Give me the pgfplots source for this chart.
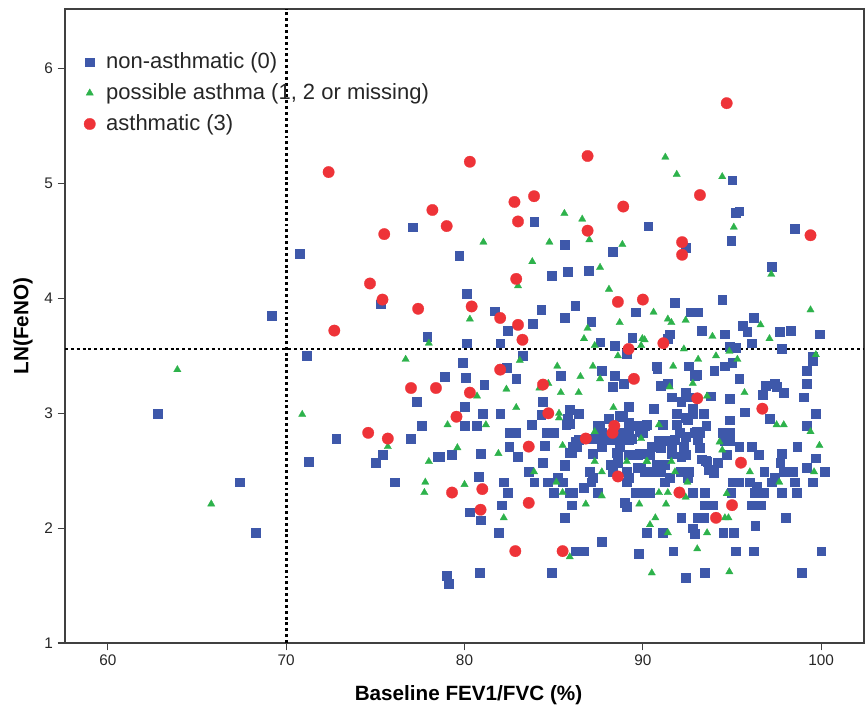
\documentclass[border=0pt]{standalone}
\usepackage{fontspec}
\setmainfont{Liberation Sans}
\usepackage{pgfplots}
\pgfplotsset{compat=1.18}
\definecolor{bluec}{RGB}{62,88,170}
\definecolor{greenc}{RGB}{45,178,75}
\definecolor{redc}{RGB}{238,51,56}
\begin{document}
\begin{tikzpicture}
\useasboundingbox (0,0) rectangle (649.5pt,540pt);
\begin{axis}[
  at={(48.75pt,57.75pt)}, anchor=south west,
  scale only axis, width=599.25pt, height=475.5pt,
  xmin=57.6, xmax=102.4, ymin=1, ymax=6.52,
  xtick={60,70,80,90,100}, ytick={1,2,3,4,5,6},
  minor tick num=0,
  tick align=outside, major tick length=5.5pt,
  xtick pos=bottom, ytick pos=left,
  axis line style={black!75, line width=0.9pt},
  tick style={black!75, line width=0.9pt},
  ticklabel style={font=\fontsize{11.5pt}{13pt}\selectfont, text=black!85},
  /pgf/number format/assume math mode=true,
  xlabel={\textbf{Baseline FEV1/FVC (\%)}},
  ylabel={\textbf{LN(FeNO)}},
  label style={font=\fontsize{15.5pt}{18pt}\selectfont},
  x label style={at={(axis description cs:0.505,-0.082)}, anchor=center},
  y label style={at={(axis description cs:-0.0526,0.5)}, anchor=center},
  legend cell align=left,
  legend image code/.code={\draw[#1] plot coordinates {(0cm,0cm)};},
  legend style={at={(axis description cs:0.0238,0.933)}, anchor=north west,
    draw=none, fill=none, inner sep=0pt, outer sep=0pt,
    font=\fontsize{16.5pt}{19pt}\selectfont, text=black!85,
    row sep=7.2pt, column sep=8pt,
    nodes={inner sep=0pt, text height=12.5pt, text depth=3.5pt}},
]
\addplot[only marks, mark=square*, mark size=3.3pt, mark options={draw=bluec, fill=bluec, line width=0.2pt}] table {
62.8 3.00
67.4 2.40
68.3 1.96
69.2 3.85
70.76 4.39
71.15 3.50
71.26 2.58
72.8 2.78
75.0 2.57
75.4 2.64
75.3 3.95
77.1 4.62
77.9 3.67
77.3 3.10
77.6 2.89
77.0 2.78
76.1 2.40
78.5 2.62
79.0 1.59
79.1 1.52
80.85 1.61
84.9 1.61
83.9 4.67
85.6 4.47
88.3 4.41
90.3 4.63
95.0 5.03
95.2 4.75
95.4 4.76
94.95 4.50
98.5 4.61
92.4 4.44
79.7 4.37
84.9 4.20
85.8 4.23
86.95 4.24
80.1 4.04
81.7 3.89
84.3 3.90
86.2 3.94
85.6 3.83
87.1 3.80
89.6 3.88
82.4 3.72
83.8 3.78
80.1 3.61
82.0 3.61
87.6 3.62
88.4 3.59
89.4 3.66
89.1 3.52
83.25 3.50
79.9 3.44
82.35 3.40
78.9 3.32
80.05 3.31
82.9 3.30
85.4 3.33
87.7 3.37
88.4 3.33
88.3 3.23
88.9 3.26
81.1 3.25
84.4 3.10
80.0 3.06
81.0 3.00
82.0 3.00
84.3 2.99
85.9 3.03
86.4 3.00
85.8 2.95
85.7 2.90
89.2 3.06
80.0 2.89
80.7 2.89
83.75 2.90
88.1 2.95
88.85 2.97
89.2 2.92
90.2 2.90
82.5 2.83
82.9 2.83
84.6 2.83
85.0 2.83
87.45 2.89
87.7 2.83
88.85 2.83
89.2 2.83
90.0 2.83
86.4 2.77
87.2 2.78
87.7 2.79
88.1 2.77
88.8 2.77
89.4 2.78
82.5 2.71
84.5 2.72
86.05 2.71
87.7 2.71
88.7 2.71
97.2 4.28
91.8 3.96
94.45 3.99
92.7 3.88
93.05 3.88
93.3 3.72
94.6 3.69
95.6 3.76
95.85 3.71
96.2 3.83
91.5 3.69
91.4 3.65
97.65 3.71
98.3 3.72
99.9 3.69
96.1 3.61
94.85 3.58
95.2 3.57
97.8 3.56
99.5 3.49
99.5 3.46
90.75 3.41
92.55 3.41
94.6 3.41
95.0 3.44
94.0 3.37
92.9 3.33
99.2 3.37
95.4 3.30
99.2 3.26
91.0 3.24
91.4 3.26
96.9 3.24
97.4 3.26
97.5 3.23
97.9 3.18
96.7 3.16
99.0 3.14
91.6 3.14
92.4 3.18
92.55 3.14
93.8 3.15
94.85 3.13
92.15 3.10
90.6 3.04
92.8 3.04
91.9 3.00
93.4 3.00
95.7 3.01
99.7 3.00
92.5 2.94
94.85 2.94
97.1 2.95
91.1 2.90
91.9 2.90
93.55 2.89
99.2 2.89
92.05 2.83
92.9 2.83
93.2 2.83
94.45 2.83
94.85 2.83
90.9 2.76
91.3 2.76
92.3 2.71
93.05 2.77
94.85 2.76
94.6 2.76
90.5 2.71
91.6 2.71
95.4 2.71
96.1 2.71
98.65 2.71
91.0 2.70
92.3 2.64
91.6 2.65
94.7 2.64
96.5 2.64
97.8 2.65
99.7 2.61
93.5 2.59
94.2 2.57
97.7 2.57
99.2 2.53
90.1 2.49
90.5 2.49
91.0 2.49
92.1 2.49
92.6 2.49
93.7 2.51
93.95 2.48
96.8 2.49
97.9 2.49
98.4 2.49
100.2 2.49
91.2 2.40
95.0 2.40
95.4 2.40
96.0 2.40
96.4 2.36
97.2 2.40
97.4 2.44
98.5 2.40
99.5 2.40
90.4 2.31
92.8 2.31
93.45 2.31
94.95 2.31
96.25 2.31
96.75 2.31
97.8 2.31
98.6 2.31
93.45 2.20
93.9 2.20
96.1 2.20
96.6 2.20
92.15 2.09
93.05 2.09
93.4 2.09
98.0 2.09
96.3 2.02
92.8 2.00
92.9 1.95
91.1 1.96
94.5 1.96
95.1 1.96
91.7 1.80
95.2 1.80
96.2 1.80
100.0 1.80
92.4 1.57
93.45 1.61
98.9 1.61
78.6 2.62
79.3 2.64
80.9 2.65
83.0 2.62
84.4 2.57
85.6 2.54
86.0 2.66
87.2 2.65
88.6 2.65
89.8 2.65
90.2 2.65
80.8 2.45
82.2 2.40
83.6 2.49
83.9 2.40
84.65 2.40
85.5 2.40
87.0 2.49
87.1 2.40
88.3 2.49
89.1 2.49
89.1 2.40
89.9 2.53
82.4 2.31
85.0 2.31
85.9 2.31
86.05 2.31
86.7 2.35
87.45 2.31
89.6 2.31
90.0 2.31
82.1 2.20
86.0 2.20
89.0 2.22
89.1 2.19
80.3 2.14
80.9 2.07
85.6 2.09
81.9 1.96
87.7 1.88
90.2 1.96
89.75 1.78
86.2 1.80
86.7 1.80
90.8 3.39
93.0 3.34
85.9 2.91
87.6 2.89
88.7 2.98
89.7 2.89
90.1 2.89
92.8 3.00
92.4 2.96
93.0 2.84
87.4 2.79
87.8 2.79
88.5 2.77
89.2 2.77
89.8 2.84
86.2 2.75
86.3 2.71
91.8 2.77
92.4 2.80
93.05 2.82
93.2 2.70
85.9 2.66
88.5 2.66
89.2 2.64
89.7 2.64
90.4 2.64
92.15 2.62
92.4 2.64
93.3 2.60
85.6 2.55
88.2 2.55
88.6 2.57
89.7 2.53
90.75 2.55
91.2 2.55
93.6 2.58
85.2 2.44
87.2 2.44
89.2 2.44
91.5 2.44
92.5 2.44
};
\addlegendentry{non-asthmatic (0)}
\addplot[forget plot, black, line width=2.2pt, dash pattern=on 2.2pt off 2.2pt] coordinates {(70,1) (70,6.52)};
\addplot[forget plot, black, line width=2.2pt, dash pattern=on 2.2pt off 2.2pt] coordinates {(57.6,3.56) (102.4,3.56)};
\addplot[only marks, mark=triangle*, mark size=3.2pt, mark options={draw=greenc, fill=greenc, line width=0.2pt}] table {
63.9 3.38
65.8 2.21
70.9 2.99
91.26 5.23
91.9 5.08
94.45 5.06
85.6 4.74
86.6 4.69
81.06 4.49
84.76 4.49
87.0 4.51
88.85 4.47
95.1 4.62
97.2 4.21
83.8 4.32
87.6 4.27
83.0 4.11
88.1 4.08
80.3 3.82
88.7 3.79
86.9 3.74
86.7 3.65
87.3 3.59
89.97 3.65
89.9 3.59
88.6 3.50
83.1 3.46
85.2 3.41
87.2 3.41
86.5 3.32
87.6 3.30
82.35 3.21
84.2 3.22
84.7 3.26
85.4 3.18
86.4 3.18
80.7 3.15
82.9 3.05
88.35 3.05
85.3 3.00
85.3 2.96
79.05 2.90
81.2 2.90
87.3 2.84
89.9 2.78
79.6 2.70
85.5 2.72
90.6 3.88
91.4 3.82
91.6 3.79
92.4 3.81
90.1 3.64
93.9 3.67
96.6 3.77
97.1 3.65
99.4 3.90
92.3 3.56
94.85 3.54
99.7 3.51
93.1 3.47
94.1 3.50
95.3 3.47
91.7 3.41
92.8 3.26
91.5 3.23
93.6 3.15
95.7 3.18
90.9 2.90
97.5 2.90
97.9 2.90
99.4 2.84
94.3 2.75
99.9 2.72
94.45 2.68
90.25 2.58
91.6 2.58
91.8 2.49
96.0 2.49
99.6 2.49
92.5 2.40
97.65 2.40
90.9 2.31
91.4 2.31
92.4 2.27
94.7 2.30
91.3 2.21
90.7 2.09
90.4 2.03
94.6 2.09
94.8 2.09
91.4 1.96
93.6 1.96
93.05 1.82
90.5 1.61
94.85 1.62
81.9 2.65
83.9 2.49
85.15 2.40
80.0 2.38
85.5 2.31
87.3 2.58
87.7 2.49
89.1 2.58
90.2 2.58
87.7 2.28
86.8 2.21
89.8 2.21
82.2 2.09
85.9 1.75
78.0 2.58
76.7 3.47
75.7 2.71
77.8 2.40
77.75 2.31
78.0 3.61
};
\addlegendentry{possible asthma (1, 2 or missing)}
\addplot[only marks, mark=*, mark size=4.3pt, mark options={draw=redc, fill=redc, line width=0.2pt}] table {
72.38 5.10
80.3 5.19
86.9 5.24
94.7 5.70
99.4 4.55
78.2 4.77
79.0 4.63
82.8 4.84
83.9 4.89
83.0 4.67
88.9 4.80
93.2 4.90
86.9 4.59
92.2 4.49
92.2 4.38
75.5 4.56
74.7 4.13
75.4 3.99
77.4 3.91
72.7 3.72
82.9 4.17
80.4 3.93
82.0 3.83
83.0 3.77
83.25 3.64
88.6 3.97
90.0 3.99
89.2 3.56
82.0 3.38
89.5 3.30
78.4 3.22
80.3 3.18
84.4 3.25
79.55 2.97
84.7 3.00
88.4 2.89
88.3 2.83
86.8 2.78
83.6 2.71
91.15 3.61
93.05 3.13
96.7 3.04
79.3 2.31
81.0 2.34
80.9 2.16
83.6 2.22
88.6 2.45
82.85 1.80
85.5 1.80
95.5 2.57
92.05 2.31
95.0 2.20
94.1 2.09
77.0 3.22
74.6 2.83
75.7 2.78
};
\addlegendentry{asthmatic (3)}
\end{axis}
\end{tikzpicture}
\end{document}
